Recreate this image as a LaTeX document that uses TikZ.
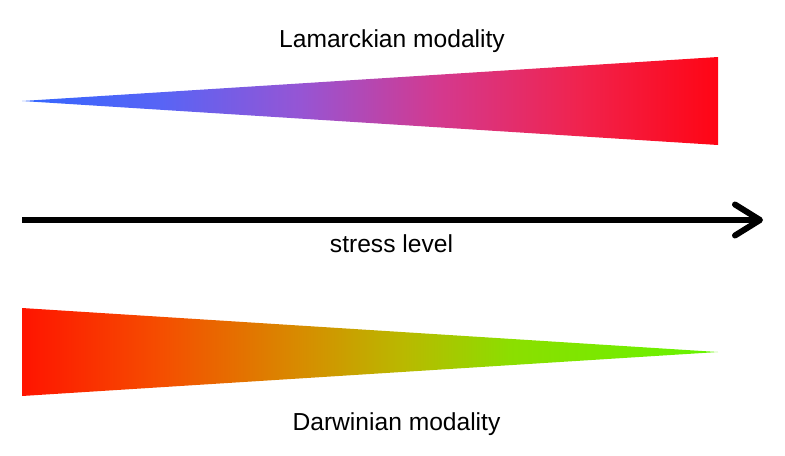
\documentclass[tikz,border=0pt]{standalone}
\usepackage{fontspec}
\setmainfont{Liberation Sans}
\usetikzlibrary{arrows.meta}

\definecolor{lamblue}{RGB}{51,102,255}
\definecolor{lamviolet}{RGB}{88,100,245}
\definecolor{lampurple}{RGB}{150,85,212}
\definecolor{lammagenta}{RGB}{212,57,142}
\definecolor{lampink}{RGB}{240,35,78}
\definecolor{lamred}{RGB}{255,5,20}
\definecolor{darred}{RGB}{255,20,0}
\definecolor{darorange}{RGB}{245,78,0}
\definecolor{daramber}{RGB}{215,140,0}
\definecolor{daryellow}{RGB}{185,185,0}
\definecolor{darlime}{RGB}{140,222,0}
\definecolor{dargreen}{RGB}{100,245,0}

% only the part from 25bp to 75bp is seen inside the path
\pgfdeclarehorizontalshading{lamshade}{100bp}{%
  color(0bp)=(lamblue); color(25bp)=(lamblue); color(35bp)=(lamviolet);
  color(45bp)=(lampurple); color(55bp)=(lammagenta); color(65bp)=(lampink);
  color(75bp)=(lamred); color(100bp)=(lamred)}
\pgfdeclarehorizontalshading{darshade}{100bp}{%
  color(0bp)=(darred); color(25bp)=(darred); color(35bp)=(darorange);
  color(45bp)=(daramber); color(52.5bp)=(daryellow); color(60bp)=(darlime);
  color(75bp)=(dargreen); color(100bp)=(dargreen)}

\begin{document}
\begin{tikzpicture}[every node/.style={font=\fontsize{7.0}{8}\selectfont}]
    \useasboundingbox (0,0) rectangle (7.85,4.55);

    % wedge half height
    \def\h{0.44}

    % Lamarckian wedge: thin on the left, wide on the right
    \coordinate (Ltip) at (0.22,3.54);
    \coordinate (Lend) at (7.18,3.54);
    \shade[shading=lamshade] (Ltip) -- ([yshift=\h cm]Lend) -- ([yshift=-\h cm]Lend) -- cycle;

    % Darwinian wedge: wide on the left, thin on the right
    \coordinate (Dend) at (0.22,1.03);
    \coordinate (Dtip) at (7.18,1.03);
    \shade[shading=darshade] ([yshift=\h cm]Dend) -- (Dtip) -- ([yshift=-\h cm]Dend) -- cycle;

    % stress axis
    \coordinate (Sa) at (0.22,2.35);
    \coordinate (Sb) at (7.63,2.35);
    \draw[line width=0.06cm,-{Straight Barb[length=0.25cm,width=0.31cm,round]}] (Sa) -- (Sb);

    % labels
    \node[anchor=base] (lam) at (3.92,4.08) {Lamarckian modality};
    \node[anchor=base] (stress) at (3.915,2.03) {stress level};
    \node[anchor=base] (dar) at (3.965,0.25) {Darwinian modality};

\end{tikzpicture}
\end{document}
